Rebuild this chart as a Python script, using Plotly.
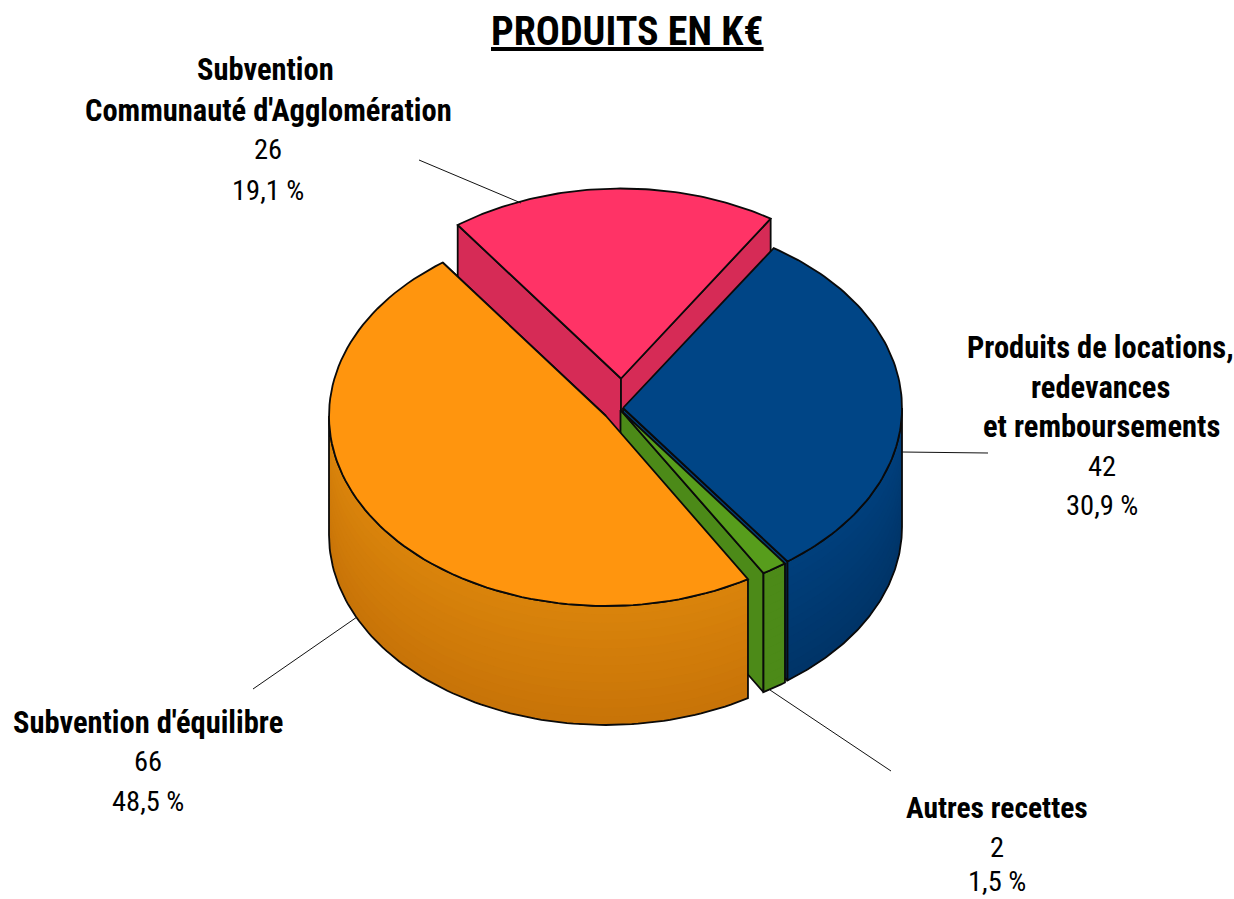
import math
import plotly.graph_objects as go

# ---- data ----
categories = ["Produits de locations, redevances et remboursements", "Autres recettes",
              "Subvention d'équilibre", "Subvention Communauté d'Agglomération"]
values = [42, 2, 66, 26]
percents = ["30,9 %", "1,5 %", "48,5 %", "19,1 %"]

# ---- look ----
top_colors = ["#004586", "#579D1C", "#FF950E", "#FF3366"]
side_top = ["#003F7B", "#4C8A18", "#D9830B", "#D62B56"]
side_bottom = ["#003468", "#4C8A18", "#C87408", "#D62B56"]
centers = [(623, 408), (620.5, 410), (606, 416), (621, 378.5)]
radii_x = [279, 279, 277, 277]
RY, DEPTH = 190, 119
START = 57.3
OUT = "#0A0A0A"
FONT = "Roboto Condensed, Liberation Sans Narrow, Liberation Sans"
FS_B = 30.5
FS_R = 28.5

total = sum(values)
angles = []
a0 = START
for v in values:
    a1 = a0 - 360 * v / total
    angles.append((a0, a1))
    a0 = a1


def pt(c, rx, t, dz=0):
    r = math.radians(t)
    return c[0] + rx * math.cos(r), c[1] - RY * math.sin(r) + dz


def arc(c, rx, t0, t1, dz=0, n=90):
    return [pt(c, rx, t0 + (t1 - t0) * i / n, dz) for i in range(n + 1)]


fig = go.Figure()


def poly(points, fill, line=True, name=""):
    xs = [p[0] for p in points] + [points[0][0]]
    ys = [p[1] for p in points] + [points[0][1]]
    fig.add_trace(go.Scatter(
        x=xs, y=ys, mode="lines", fill="toself", fillcolor=fill, name=name,
        line=dict(color=OUT if line else "rgba(0,0,0,0)", width=1.8 if line else 0),
        hoverinfo="skip", showlegend=False))


def radial(c, rx, t, fill, name):
    apex = (c[0], c[1])
    p = pt(c, rx, t)
    poly([apex, p, (p[0], p[1] + DEPTH), (apex[0], apex[1] + DEPTH)], fill, name=name)


def mix(h1, h2, f):
    a = [int(h1[i:i + 2], 16) for i in (1, 3, 5)]
    b = [int(h2[i:i + 2], 16) for i in (1, 3, 5)]
    return "#%02x%02x%02x" % tuple(round(x + (y - x) * f) for x, y in zip(a, b))


def outer(c, rx, t0, t1, c1, c2, name):
    # front wall: lit at the top edge, darker to the bottom
    bands = 14
    lower = arc(c, rx, t1, t0, DEPTH)
    for k in range(bands):
        dz = DEPTH * k / bands
        poly(arc(c, rx, t0, t1, dz) + lower, mix(c1, c2, k / (bands - 1)), line=False, name=name)
    poly(arc(c, rx, t0, t1) + lower, "rgba(0,0,0,0)", name=name)


# painter's order: back slice first
order = [3, 0, 1, 2]
for i in order:
    c = centers[i]
    rx = radii_x[i]
    t0, t1 = angles[i]
    n = categories[i]
    if i == 3:
        radial(c, rx, t0, side_top[i], n)
        radial(c, rx, t1, side_top[i], n)
    else:
        radial(c, rx, t1, side_top[i], n)
    # visible part of the outer wall lies between 0 and -180 degrees
    w0, w1 = min(t0, 0), max(t1, -180)
    if w0 > w1:
        outer(c, rx, w0, w1, side_top[i], side_bottom[i], n)
    poly([(c[0], c[1])] + arc(c, rx, t0, t1), top_colors[i], name=n)

# leader lines
leaders = [((902, 452), (988, 453)), ((770, 690), (891, 771)),
           ((357, 617), (253, 689)), ((521, 203), (419, 160))]
for (p, q) in leaders:
    fig.add_trace(go.Scatter(x=[p[0], q[0]], y=[p[1], q[1]], mode="lines",
                             line=dict(color="#111111", width=1),
                             hoverinfo="skip", showlegend=False))

bold = dict(family=FONT, size=FS_B, color="#000000", weight="bold")
reg = dict(family=FONT, size=FS_R, color="#000000")
labels = [
    ("Subvention", 265, 69, bold), ("Communauté d'Agglomération", 268, 110, bold),
    (str(values[3]), 268, 149, reg), (percents[3], 268, 190, reg),
    ("Produits de locations,", 1100, 347, bold), ("redevances", 1100, 387, bold),
    ("et remboursements", 1101, 426, bold),
    (str(values[0]), 1102, 466, reg), (percents[0], 1102, 505, reg),
    ("Subvention d'équilibre", 148, 722, bold),
    (str(values[2]), 148, 761, reg), (percents[2], 148, 801, reg),
    ("Autres recettes", 997, 808, dict(bold, size=29.5)),
    (str(values[1]), 997, 847, reg), (percents[1], 997, 881.5, reg),
]
for text, x, y, f in labels:
    fig.add_annotation(x=x, y=y, xref="x", yref="y", text=text, showarrow=False,
                       font=f, xanchor="center", yanchor="middle")

fig.add_annotation(x=627, y=31, xref="x", yref="y", text="<u>PRODUITS EN K€</u>", showarrow=False,
                   font=dict(family=FONT, size=40, color="#000000", weight="bold"),
                   xanchor="center", yanchor="middle")

fig.update_layout(
    width=1234, height=899, margin=dict(l=0, r=0, t=0, b=0),
    paper_bgcolor="white", plot_bgcolor="white", showlegend=False,
    xaxis=dict(range=[0, 1234], visible=False, domain=[0, 1]),
    yaxis=dict(range=[899, 0], visible=False, domain=[0, 1]),
)
fig.write_html("out.html", config=dict(displayModeBar=False),
               post_script="document.body.style.margin='0';document.body.style.overflow='hidden';")
